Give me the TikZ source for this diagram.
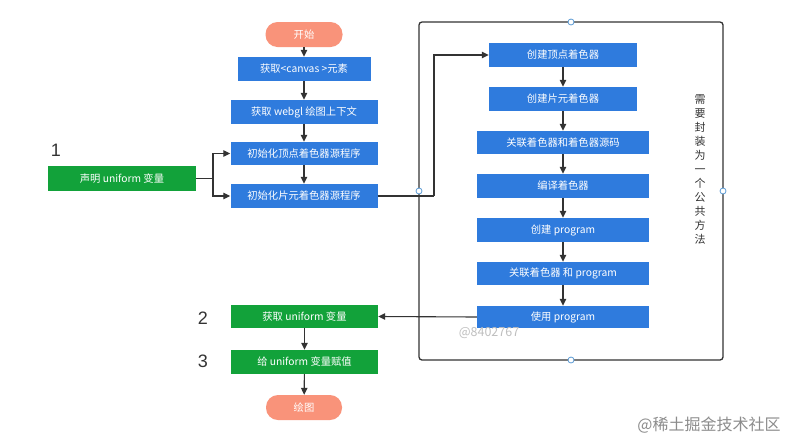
\documentclass[tikz,border=0pt]{standalone}
\usepackage{fontspec}
\setmainfont{Noto Sans CJK SC}
\newfontfamily\digitfont{Liberation Sans}
\usetikzlibrary{arrows.meta}
\definecolor{bluebox}{HTML}{2F7BDD}
\definecolor{greenbox}{HTML}{12A23A}
\definecolor{salmon}{HTML}{F9937A}
\definecolor{darkline}{HTML}{333333}
\definecolor{circblue}{HTML}{5B9BD5}
\begin{document}
\begin{tikzpicture}[x=1pt,y=-1pt,
  boxbase/.style={text=white,inner sep=0pt,font=\fontsize{10.3}{11}\selectfont},
  bluebx/.style={boxbase,fill=bluebox},
  greenbx/.style={boxbase,fill=greenbox},
  pill/.style={boxbase,fill=salmon,rounded corners=12pt,minimum width=77pt,minimum height=25pt},
  arr/.style={draw=darkline,line width=1.1pt,-{Triangle[length=7pt,width=6.5pt]}},
  ln/.style={draw=darkline,line width=1.1pt},
  circ/.style={circle,draw=circblue,fill=white,line width=0.8pt,minimum size=6pt,inner sep=0pt},
  numlbl/.style={text=darkline,font=\digitfont\fontsize{18}{18}\selectfont}
]
\useasboundingbox (0,0) rectangle (785,440);
\fill[white] (0,0) rectangle (785,440);

% enclosing frame
\draw[darkline,line width=1.3pt,rounded corners=3pt] (419,22) rectangle (723,360);
\node[circ] (ct) at (571,22) {};
\node[circ] (cb) at (571,360) {};
\node[circ] (cl) at (419,191) {};
\node[circ] (cr) at (723,191) {};

% left column
\node[pill] (start) at (304,34.5) {开始};
\node[bluebx,minimum width=133pt,minimum height=24pt] (b1) at (304,69) {获取<canvas >元素};
\node[bluebx,minimum width=147pt,minimum height=24pt] (b2) at (304,112) {获取 webgl 绘图上下文};
\node[bluebx,minimum width=147pt,minimum height=23pt] (b3) at (304,153.5) {初始化顶点着色器源程序};
\node[bluebx,minimum width=147pt,minimum height=24pt] (b4) at (304,196) {初始化片元着色器源程序};

\node[greenbx,minimum width=148pt,minimum height=25pt] (g1) at (122,178.5) {声明 uniform 变量};
\node[greenbx,minimum width=147pt,minimum height=23pt] (g2) at (304.5,316.5) {获取 uniform 变量};
\node[greenbx,minimum width=147pt,minimum height=24pt] (g3) at (304.5,362) {给 uniform 变量赋值};
\node[pill,minimum width=76pt] (end) at (304,407.5) {绘图};

\node[numlbl] (n1) at (56,150) {1};
\node[numlbl] (n2) at (203,318) {2};
\node[numlbl] (n3) at (203,361) {3};

% right column
\node[bluebx,minimum width=148pt,minimum height=24pt] (r1) at (563,55) {创建顶点着色器};
\node[bluebx,minimum width=148pt,minimum height=24pt] (r2) at (563,99) {创建片元着色器};
\node[bluebx,minimum width=172pt,minimum height=23pt] (r3) at (563,142.5) {关联着色器和着色器源码};
\node[bluebx,minimum width=172pt,minimum height=24pt] (r4) at (563,186) {编译着色器};
\node[bluebx,minimum width=172pt,minimum height=24pt] (r5) at (563,230) {创建 program};
\node[bluebx,minimum width=172pt,minimum height=23pt] (r6) at (563,273.5) {关联着色器 和 program};
\node[bluebx,minimum width=172pt,minimum height=22pt] (r7) at (563,317) {使用 program};

\node[text=darkline,align=center,font=\fontsize{11}{14}\selectfont] (vt) at (700,170)
  {需\\要\\封\\装\\为\\一\\个\\公\\共\\方\\法};

% connectors
\draw[arr] (start) -- (b1);
\draw[arr] (b1) -- (b2);
\draw[arr] (b2) -- (b3);
\draw[arr] (b3) -- (b4);

\coordinate (j) at (213,178.5);
\draw[ln] (g1.east) -- (j);
\draw[arr] (j) |- (b3.west);
\draw[arr] (j) |- (b4.west);

\coordinate (k) at (434,196);
\draw[ln] (b4.east) -- (k);
\draw[arr] (k) |- (r1.west);

\draw[arr] (r1) -- (r2);
\draw[arr] (r2) -- (r3);
\draw[arr] (r3) -- (r4);
\draw[arr] (r4) -- (r5);
\draw[arr] (r5) -- (r6);
\draw[arr] (r6) -- (r7);

\draw[arr] (r7.west) -- (g2.east);
\draw[arr] (g2) -- (g3);
\draw[arr] (g3) -- (end);

% watermarks
\node[text=black!25,font=\fontsize{12.5}{12.5}\selectfont] (w1) at (489,333) {@8402767};
\node[text=black!45,font=\fontsize{16}{16}\selectfont] (w2) at (709,425) {@稀土掘金技术社区};
\end{tikzpicture}
\end{document}
